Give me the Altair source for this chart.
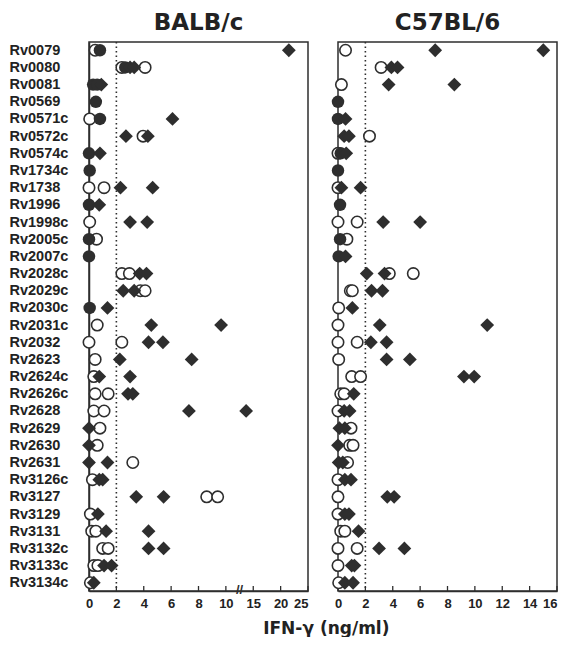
import altair as alt
import pandas as pd

FONT = "Liberation Sans"
TFONT = "DejaVu Sans"
INK = "#2e2e2e"

genes = ["Rv0079", "Rv0080", "Rv0081", "Rv0569", "Rv0571c", "Rv0572c", "Rv0574c",
         "Rv1734c", "Rv1738", "Rv1996", "Rv1998c", "Rv2005c", "Rv2007c", "Rv2028c",
         "Rv2029c", "Rv2030c", "Rv2031c", "Rv2032", "Rv2623", "Rv2624c", "Rv2626c",
         "Rv2628", "Rv2629", "Rv2630", "Rv2631", "Rv3126c", "Rv3127", "Rv3129",
         "Rv3131", "Rv3132c", "Rv3133c", "Rv3134c"]

# ---- BALB/c ----
balb_open = {
    "Rv0079": [0.45], "Rv0080": [2.4, 4.1], "Rv0571c": [0.05], "Rv0572c": [3.95],
    "Rv1738": [0.0, 1.1], "Rv1998c": [0.05], "Rv2005c": [0.55], "Rv2028c": [2.4, 2.95],
    "Rv2029c": [3.75, 4.1], "Rv2031c": [0.6], "Rv2032": [0.0, 2.4], "Rv2623": [0.45],
    "Rv2624c": [0.35], "Rv2626c": [0.45, 1.4], "Rv2628": [0.35, 1.1], "Rv2629": [0.8],
    "Rv2630": [0.6], "Rv2631": [3.2], "Rv3126c": [0.25], "Rv3127": [8.6, 9.4],
    "Rv3129": [0.1], "Rv3131": [0.2, 0.5], "Rv3132c": [1.0, 1.4], "Rv3133c": [0.35, 0.65],
    "Rv3134c": [0.1],
}
balb_filled = {
    "Rv0079": [0.8], "Rv0080": [2.65], "Rv0081": [0.3, 0.6], "Rv0569": [0.5],
    "Rv0571c": [0.8], "Rv0574c": [0.0], "Rv1734c": [0.05], "Rv1996": [0.0],
    "Rv2005c": [0.0], "Rv2007c": [0.0], "Rv2030c": [0.05],
}
balb_diamond = {
    "Rv0079": [21.5], "Rv0080": [3.0, 3.3], "Rv0081": [0.9], "Rv0571c": [6.1],
    "Rv0572c": [2.7, 4.3], "Rv0574c": [0.8], "Rv1738": [2.3, 4.65], "Rv1996": [0.75],
    "Rv1998c": [3.0, 4.25], "Rv2028c": [3.7, 4.2], "Rv2029c": [2.5, 3.3],
    "Rv2030c": [1.35], "Rv2031c": [4.55, 9.65], "Rv2032": [4.35, 5.4],
    "Rv2623": [2.25, 7.5], "Rv2624c": [0.75, 3.0], "Rv2626c": [2.85, 3.2],
    "Rv2628": [7.3, 13.7], "Rv2629": [0.0], "Rv2630": [0.0], "Rv2631": [0.0, 1.35],
    "Rv3126c": [0.75, 1.0], "Rv3127": [3.45, 5.45], "Rv3129": [0.65],
    "Rv3131": [1.25, 4.35], "Rv3132c": [4.35, 5.45], "Rv3133c": [1.1, 1.65],
    "Rv3134c": [0.35],
}

# ---- C57BL/6 ----
b6_open = {
    "Rv0079": [0.55], "Rv0080": [3.15], "Rv0081": [0.25], "Rv0572c": [2.3],
    "Rv0574c": [0.0], "Rv1738": [0.0], "Rv1998c": [0.0, 1.4], "Rv2005c": [0.65],
    "Rv2028c": [3.75, 5.5], "Rv2029c": [0.9, 1.05], "Rv2030c": [0.05], "Rv2031c": [0.0],
    "Rv2032": [0.0, 1.4], "Rv2623": [0.05], "Rv2624c": [1.0, 1.65], "Rv2626c": [0.2, 0.45],
    "Rv2628": [0.0], "Rv2629": [0.95], "Rv2630": [0.85, 1.1], "Rv2631": [0.7],
    "Rv3126c": [0.0], "Rv3127": [0.0], "Rv3129": [0.0], "Rv3131": [0.2, 0.5],
    "Rv3132c": [0.0, 1.4], "Rv3133c": [0.0], "Rv3134c": [0.05],
}
b6_filled = {
    "Rv0569": [0.0], "Rv0571c": [0.0], "Rv0574c": [0.2], "Rv1734c": [0.0],
    "Rv1996": [0.15], "Rv2005c": [0.15], "Rv2007c": [0.05],
}
b6_diamond = {
    "Rv0079": [7.1, 15.0], "Rv0080": [3.9, 4.35], "Rv0081": [3.7, 8.5], "Rv0571c": [0.55],
    "Rv0572c": [0.45, 0.8], "Rv0574c": [0.6], "Rv1738": [0.25, 1.65], "Rv1998c": [3.3, 6.0],
    "Rv2007c": [0.55], "Rv2028c": [2.1, 3.4], "Rv2029c": [2.45, 3.25], "Rv2030c": [1.05],
    "Rv2031c": [3.05, 10.9], "Rv2032": [2.4, 3.55], "Rv2623": [3.55, 5.25],
    "Rv2624c": [9.2, 9.95], "Rv2626c": [1.15], "Rv2628": [0.45, 0.85], "Rv2629": [0.1, 0.5],
    "Rv2630": [0.0], "Rv2631": [0.05, 0.35], "Rv3126c": [0.5, 0.95], "Rv3127": [3.6, 4.1],
    "Rv3129": [0.5, 0.8], "Rv3131": [1.5], "Rv3132c": [3.0, 4.85], "Rv3133c": [1.0, 1.2],
    "Rv3134c": [0.5, 1.1],
}

balb_ticks = [0, 2, 4, 6, 8, 10, 15, 20, 25]
b6_ticks = [0, 2, 4, 6, 8, 10, 12, 14, 16]
threshold = [2]
balb_break = [11]

W, H = 219, 549


def squeeze(v):
    # broken axis: 0-10 linear, above 10 compressed 2.5x
    return v if v <= 10 else 10 + (v - 10) / 2.5


def table(d_open, d_filled, d_diam, fn):
    rows = []
    for kind, d in (("open", d_open), ("filled", d_filled), ("diamond", d_diam)):
        for g, vals in d.items():
            for v in vals:
                rows.append({"gene": g, "value": v, "pos": fn(v), "kind": kind})
    return pd.DataFrame(rows)


def panel(df, ticks, fn, title, show_y, label_expr, brk=None):
    xs = alt.Scale(domain=[0, 16], nice=False, zero=False)
    ys = alt.Scale(type="point", padding=0.48, domain=genes)
    tick_df = pd.DataFrame({"pos": [fn(t) for t in ticks]})
    xaxis = alt.Axis(values=[fn(t) for t in ticks], tickCount=len(ticks) + 4,
                     labelExpr=label_expr, title=None,
                     grid=False, ticks=False, tickSize=0, labelPadding=6,
                     labelOverlap=False, labelFlush=False,
                     labelAlign={"condition": {"test": "datum.value >= 16", "value": "right"},
                                 "value": "center"},
                     labelFontSize=13, labelFontWeight="bold", labelColor="#222",
                     labelFont=FONT, domainColor=INK, domainWidth=1.5)
    if show_y:
        yaxis = alt.Axis(title=None, labelAlign="left", labelPadding=80, ticks=False,
                         tickSize=0, labelFontSize=14.5, labelFontWeight="bold",
                         labelColor="#222", labelFont=FONT, domainColor=INK,
                         labelOverlap=False, domainWidth=1.5, grid=False)
    else:
        yaxis = None

    base = alt.Chart(df)
    x_enc = alt.X("pos:Q", scale=xs, axis=xaxis)
    y_enc = alt.Y("gene:N", sort=genes, scale=ys, axis=yaxis)

    rule = alt.Chart(pd.DataFrame({"pos": [fn(t) for t in threshold]})).mark_rule(
        strokeDash=[1.5, 3], strokeWidth=1.6, color=INK
    ).encode(x=alt.X("pos:Q", scale=xs))

    tks = alt.Chart(tick_df).mark_rule(color=INK, strokeWidth=1.3).encode(
        x=alt.X("pos:Q", scale=xs), y=alt.value(H - 5), y2=alt.value(H)
    )

    opens = base.transform_filter(alt.datum.kind == "open").mark_point(
        shape="circle", filled=True, fill="white", stroke=INK, strokeWidth=1.6,
        size=130, opacity=1
    ).encode(x=x_enc, y=y_enc)
    filled = base.transform_filter(alt.datum.kind == "filled").mark_point(
        shape="circle", filled=True, color=INK, size=155, opacity=1
    ).encode(x=x_enc, y=y_enc)
    diam = base.transform_filter(alt.datum.kind == "diamond").mark_point(
        shape="diamond", filled=True, color=INK, size=190, opacity=1
    ).encode(x=x_enc, y=y_enc)

    layers = [rule, tks, opens, filled, diam]
    if brk is not None:
        br = alt.Chart(pd.DataFrame({"pos": brk})).mark_text(
            text="//", fontSize=13, fontWeight="bold", color=INK, baseline="middle",
            font=FONT
        ).encode(x=alt.X("pos:Q", scale=xs), y=alt.value(H - 1))
        layers.append(br)

    return alt.layer(*layers).properties(
        width=W, height=H,
        title=alt.TitleParams(title, fontSize=23, fontWeight="bold", font=TFONT,
                              color="#222", anchor="middle", offset=6),
    )


balb_df = table(balb_open, balb_filled, balb_diamond, squeeze)
b6_df = table(b6_open, b6_filled, b6_diamond, lambda v: v)

left = panel(balb_df, balb_ticks, squeeze, "BALB/c", True,
             "'' + (datum.value <= 10 ? datum.value : 10 + (datum.value - 10) * 2.5)",
             brk=balb_break)
right = panel(b6_df, b6_ticks, lambda v: v, "C57BL/6", False, "'' + datum.value")

chart = alt.hconcat(left, right, spacing=18).properties(
    title=alt.TitleParams("IFN-γ (ng/ml)", orient="bottom", anchor="middle",
                          fontSize=17, fontWeight="bold", font=TFONT, color="#222",
                          offset=10, dx=43),
    padding={"left": 0, "top": 3, "right": 0, "bottom": 0},
).configure(font=FONT).configure_view(stroke=INK, strokeWidth=1.5)

chart.save("out.html", embed_options={"renderer": "svg", "actions": False})
